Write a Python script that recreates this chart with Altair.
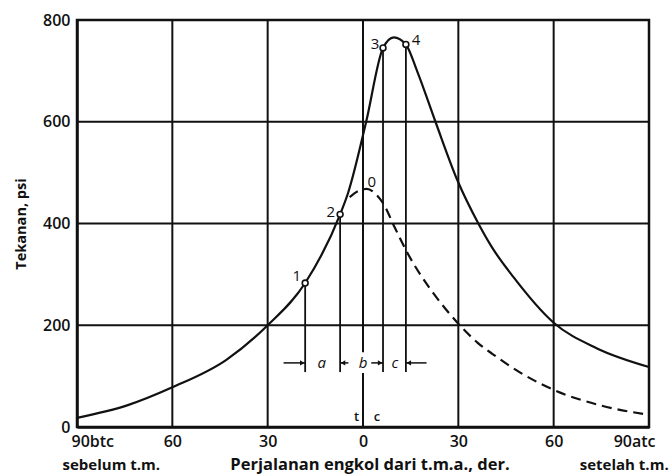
import altair as alt
import pandas as pd

# ---- data ----
solid_deg = [-90, -74, -60, -43, -30, -18.2, -7.2, -4.7, 1, 6.3, 9.7, 13.5, 17, 22.8, 29.7, 36.3, 40.5, 47.3, 60, 73.5, 90]
solid_psi = [18, 43, 78, 132, 200, 283, 418, 460, 600, 745, 766, 752, 700, 600, 485, 400, 354, 295, 205, 155, 118]

motor_deg = [-4.2, -1.5, 1.2, 3.8, 6.4, 10, 14, 18, 22, 26, 30, 36, 42, 50, 60, 75, 90]
motor_psi = [452, 464, 468, 459, 439, 392, 342, 300, 264, 232, 203, 166, 138, 105, 73, 42, 24]

point_names = ["1", "2", "3", "4"]
point_deg = [-18.2, -7.2, 6.3, 13.5]
point_psi = [283, 418, 745, 752]

x_ticks = [-90, -60, -30, 0, 30, 60, 90]
y_ticks = [0, 200, 400, 600, 800]

interval_names = ["a", "b", "c"]
interval_deg = [-13, 0, 10]

FONT = "Open Sans"
INK = "#111111"

XS = alt.Scale(domain=[-90, 90], nice=False, zero=False)
YS = alt.Scale(domain=[0, 800], nice=False, zero=True)

solid_df = pd.DataFrame({"deg": solid_deg, "psi": solid_psi})
motor_df = pd.DataFrame({"deg": motor_deg, "psi": motor_psi})
pts_df = pd.DataFrame({"name": point_names, "deg": point_deg, "psi": point_psi})

# main curve (carries the axes)
solid = alt.Chart(solid_df).mark_line(color=INK, strokeWidth=2.2, interpolate="monotone").encode(
    x=alt.X("deg:Q", scale=XS, axis=alt.Axis(
        values=x_ticks, grid=False, ticks=False, domainColor=INK, domainWidth=2.5,
        labelExpr="datum.value == -90 ? '90btc' : (datum.value == 90 ? '90atc' : '' + abs(datum.value))",
        labelFont=FONT, labelFontSize=16, labelFontWeight=600, labelColor=INK,
        labelPadding=6, labelFlush=True, labelFlushOffset=6, title=None)),
    y=alt.Y("psi:Q", scale=YS, axis=alt.Axis(
        values=y_ticks, grid=False, ticks=False, domainColor=INK, domainWidth=2.5,
        labelFont=FONT, labelFontSize=16, labelFontWeight=600, labelColor=INK, labelPadding=7,
        title="Tekanan, psi", titleFont=FONT, titleFontSize=14.5, titleFontWeight="bold",
        titleColor=INK, titlePadding=14)),
)

motor = alt.Chart(motor_df).mark_line(color=INK, strokeWidth=2.2, strokeDash=[10, 6],
                                      interpolate="monotone").encode(
    x=alt.X("deg:Q", scale=XS), y=alt.Y("psi:Q", scale=YS))

# grid lines
vgrid_df = pd.DataFrame({"x": [-60, -30, 30, 60, 0, 0], "y": [0, 0, 0, 0, 0, 147],
                         "y2": [800, 800, 800, 800, 106, 800]})
vgrid = alt.Chart(vgrid_df).mark_rule(color=INK, strokeWidth=2).encode(
    x=alt.X("x:Q", scale=XS), y=alt.Y("y:Q", scale=YS), y2="y2:Q")
hgrid_df = pd.DataFrame({"y": [200, 400, 600], "x": [-90] * 3, "x2": [90] * 3})
hgrid = alt.Chart(hgrid_df).mark_rule(color=INK, strokeWidth=2).encode(
    y=alt.Y("y:Q", scale=YS), x=alt.X("x:Q", scale=XS), x2="x2:Q")

# drop lines from the points
drop_df = pts_df.assign(base=108)
drops = alt.Chart(drop_df).mark_rule(color=INK, strokeWidth=1.8).encode(
    x=alt.X("deg:Q", scale=XS), y=alt.Y("base:Q", scale=YS), y2="psi:Q")

# dimension arrows
arrow_tail = [-25, -4.6, 2.6, 20]
arrow_tip = [-18.2, -7.2, 6.3, 13.5]
arr_df = pd.DataFrame({"tail": arrow_tail, "tip": arrow_tip, "lvl": [126] * 4})
arr_df["dir"] = ["r" if b > a else "l" for a, b in zip(arrow_tail, arrow_tip)]
arr_df["head"] = [b - 0.9 if d == "r" else b + 0.9 for b, d in zip(arr_df["tip"], arr_df["dir"])]
shafts = alt.Chart(arr_df).mark_rule(color=INK, strokeWidth=1.5).encode(
    x=alt.X("tail:Q", scale=XS), x2="tip:Q", y=alt.Y("lvl:Q", scale=YS))
heads = alt.Chart(arr_df).mark_point(filled=True, color=INK, size=28, opacity=1).encode(
    x=alt.X("head:Q", scale=XS), y=alt.Y("lvl:Q", scale=YS),
    shape=alt.Shape("dir:N", scale=alt.Scale(domain=["r", "l"], range=["triangle-right", "triangle-left"]),
                    legend=None))

int_df = pd.DataFrame({"t": interval_names, "deg": interval_deg, "lvl": [126] * 3})
int_txt = alt.Chart(int_df).mark_text(font=FONT, fontSize=15, fontStyle="italic", color=INK,
                                      baseline="middle").encode(
    x=alt.X("deg:Q", scale=XS), y=alt.Y("lvl:Q", scale=YS), text="t:N")

# open circles
circles = alt.Chart(pts_df).mark_point(shape="circle", filled=True, fill="white", stroke=INK,
                                       strokeWidth=1.6, size=34, opacity=1).encode(
    x=alt.X("deg:Q", scale=XS), y=alt.Y("psi:Q", scale=YS))

# point labels
lab_df = pd.DataFrame({"t": ["1", "2", "3", "4", "0"],
                       "deg": [-20.8, -10.1, 3.8, 16.7, 2.8],
                       "psi": [297, 422, 752, 760, 481]})
labels = alt.Chart(lab_df).mark_text(font=FONT, fontSize=15, color=INK, baseline="middle").encode(
    x=alt.X("deg:Q", scale=XS), y=alt.Y("psi:Q", scale=YS), text="t:N")

tc_df = pd.DataFrame({"t": ["t", "c"], "deg": [-2.0, 4.4], "psi": [20, 20]})
tc = alt.Chart(tc_df).mark_text(font=FONT, fontSize=13, fontWeight=600, color=INK, baseline="middle").encode(
    x=alt.X("deg:Q", scale=XS), y=alt.Y("psi:Q", scale=YS), text="t:N")

cap_df = pd.DataFrame({"t": ["sebelum t.m.", "setelah t.m."], "deg": [-79.2, 82.2]})
caps = alt.Chart(cap_df).mark_text(font=FONT, fontSize=15, fontWeight="bold", color=INK,
                                   baseline="middle").encode(
    x=alt.X("deg:Q", scale=XS), y=alt.value(445), text="t:N")
main_df = pd.DataFrame({"t": ["Perjalanan engkol dari t.m.a., der."], "deg": [2.2]})
main_cap = alt.Chart(main_df).mark_text(font=FONT, fontSize=16.5, fontWeight="bold", color=INK,
                                        baseline="middle").encode(
    x=alt.X("deg:Q", scale=XS), y=alt.value(445), text="t:N")

chart = alt.layer(vgrid, hgrid, drops, motor, solid, shafts, heads, int_txt, circles, labels, tc,
                  caps, main_cap).properties(
    width=572, height=407,
    padding={"left": 77, "top": 20, "right": 20, "bottom": 49},
    autosize=alt.AutoSizeParams(type="none"),
    background="white",
).configure_view(stroke=INK, strokeWidth=2.5)

chart.save("out.html", embed_options={"renderer": "svg", "actions": False})
